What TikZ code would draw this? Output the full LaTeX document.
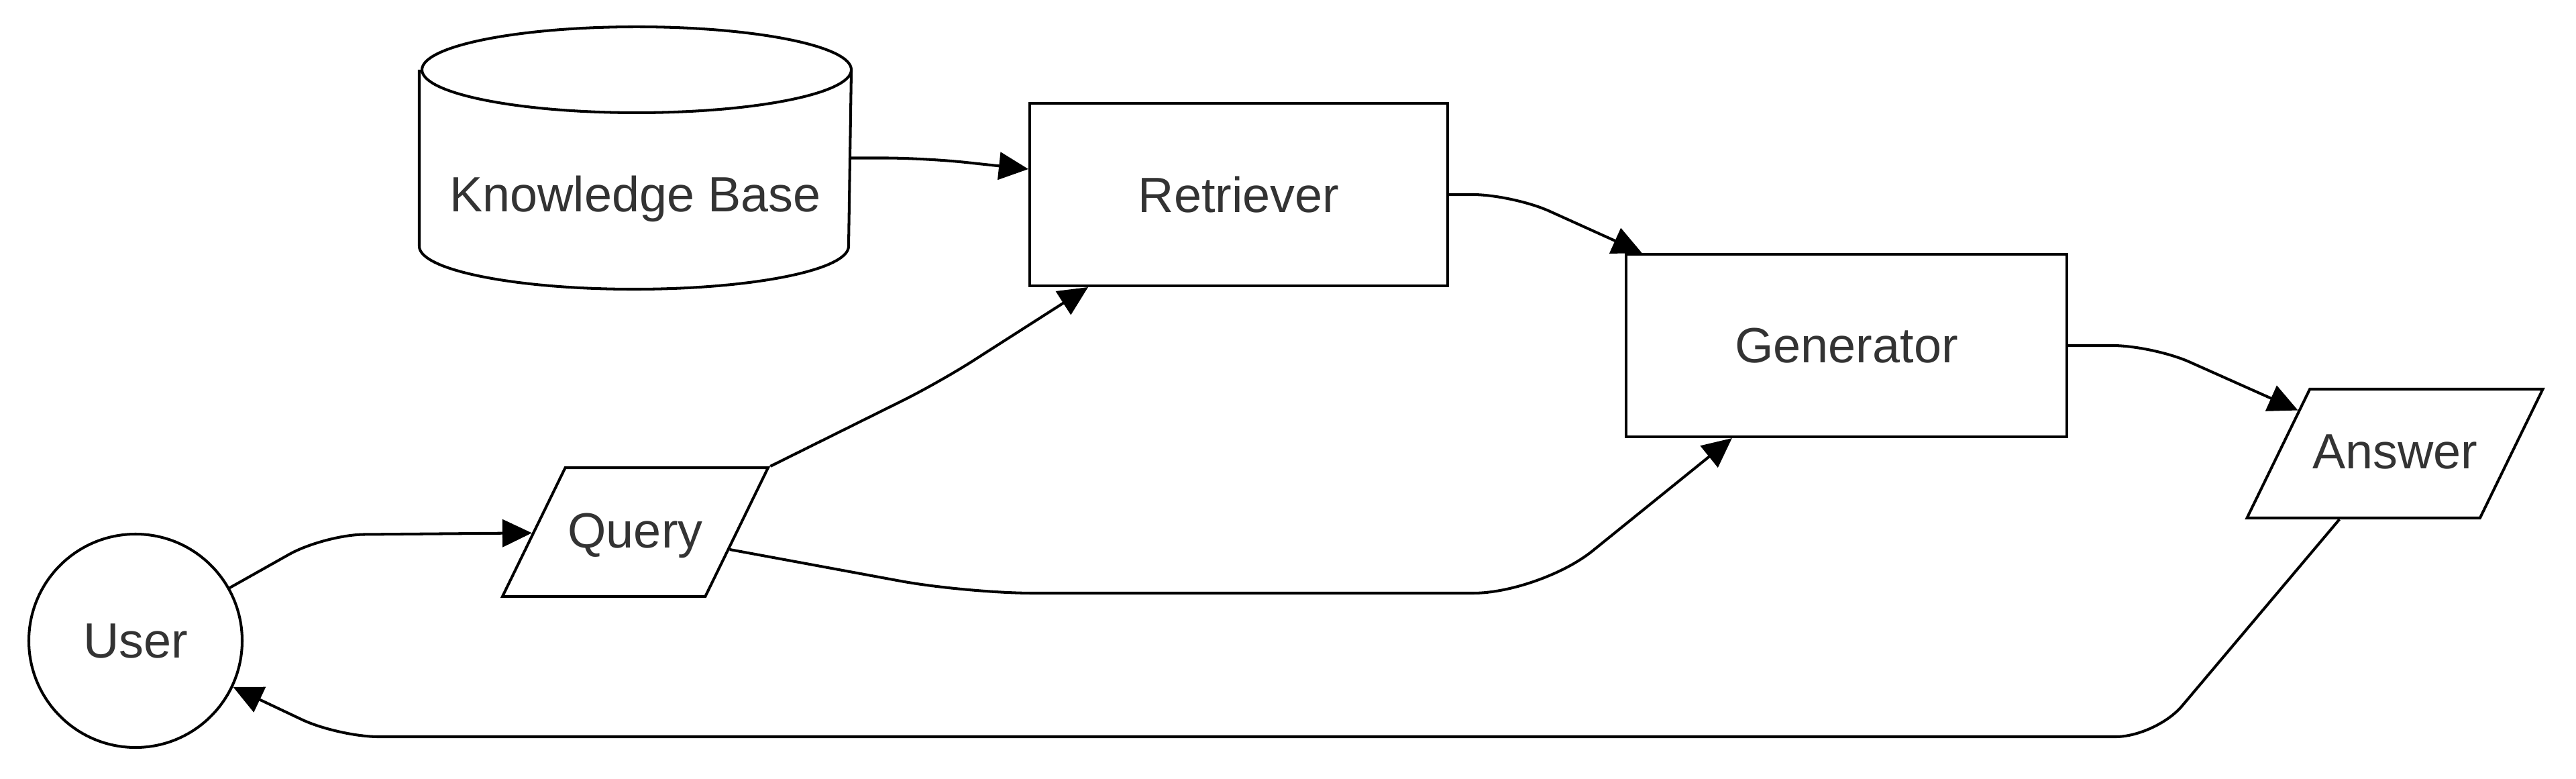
\documentclass[tikz,border=0pt]{standalone}
\usepackage{fontspec}
\setmainfont{Liberation Sans}
\usetikzlibrary{shapes.geometric,arrows.meta}
\definecolor{textgray}{HTML}{333333}

\begin{document}
\begin{tikzpicture}[
    every node/.style={font=\fontsize{21}{25}\selectfont, text=textgray, line width=1.15pt},
    box/.style={rectangle, draw=black, minimum height=2.72cm},
    io/.style={trapezium, trapezium left angle=64, trapezium right angle=116, trapezium stretches body=true, draw=black, text height=5.8mm, text depth=1.2mm, inner ysep=6.1mm, inner xsep=0pt},
    db/.style={minimum width=6.4cm, minimum height=3.87cm, text height=1.61cm, text depth=0pt},
    flow/.style={-{Triangle[length=4.4mm, width=4.1mm]}, line width=1.15pt, rounded corners=6mm}
]
    \useasboundingbox (0,0) rectangle (38.4,11.6);

    \node[db] (kb) at (9.47, 9.245) {Knowledge Base};
    \node[box, minimum width=6.23cm] (ret) at (18.465, 8.70) {Retriever};
    \node[box, minimum width=6.57cm] (gen) at (27.525, 6.45) {Generator};
    \node[io, minimum width=3.96cm] (query) at (9.47, 3.67) {Query};
    \node[io, minimum width=4.41cm] (ans) at (35.70, 4.84) {Answer};
    \node[circle, draw=black, minimum size=3.18cm] (user) at (2.02, 2.05) {User};

    \draw[line width=1.15pt] ([yshift=-6.4mm]kb.north west) -- ([yshift=6.4mm]kb.south west)
        arc[start angle=180, end angle=360, x radius=3.2cm, y radius=6.4mm]
        -- ([yshift=-6.4mm]kb.north east)
        arc[start angle=0, end angle=180, x radius=3.2cm, y radius=6.4mm]
        arc[start angle=180, end angle=360, x radius=3.2cm, y radius=6.4mm];

    \draw[flow] (kb.east) -- ++(1.1,0) -- ([yshift=3.8mm]ret.west);
    \draw[flow] (ret.east) -- ++(0.95,0) -- (gen);
    \draw[flow] (gen.east) -- ++(1.26,0) -- (ans);
    \draw[flow] (user) -- (4.83,3.63) -- (query);
    \draw[flow] (query.top right corner) -- (14.0,5.9) -- ([xshift=8.9mm]ret.south west);
    \draw[flow, rounded corners=10mm] (query) -- (14.4,2.76) -- (22.96,2.76) -- (gen);
    \draw[flow] (ans) -- (32.14,0.62) -- (5.04,0.62) -- (user);
\end{tikzpicture}
\end{document}
